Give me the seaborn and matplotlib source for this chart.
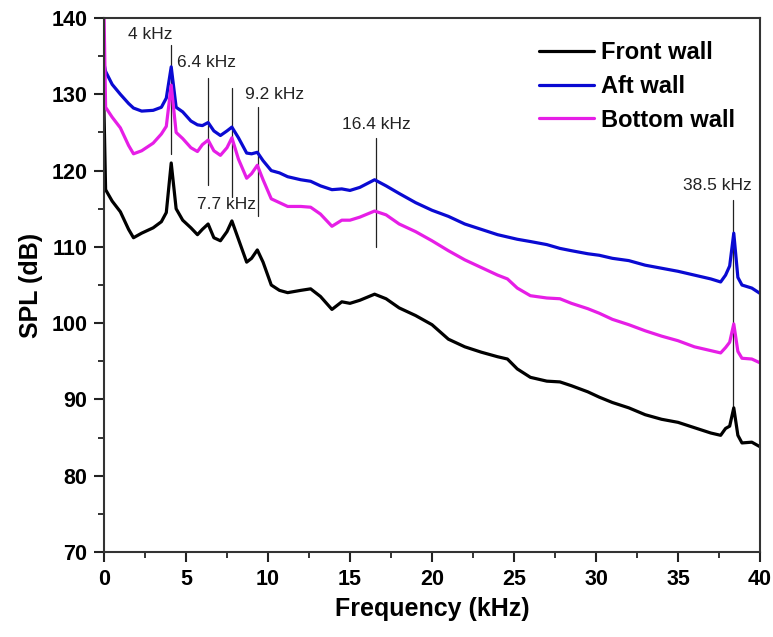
import matplotlib
matplotlib.use("Agg")
import matplotlib.pyplot as plt
import seaborn as sns
import pandas as pd
from matplotlib.ticker import MultipleLocator

# ---- data ----
freq_khz = [0, 0.1, 0.5, 1.0, 1.5, 1.8, 2.3, 3.0, 3.5, 3.8, 4.1, 4.4, 4.8, 5.3, 5.7, 6.0,
            6.35, 6.7, 7.1, 7.5, 7.8, 8.2, 8.7, 9.0, 9.35, 9.7, 10.2, 10.7, 11.2, 12.0,
            12.6, 13.2, 13.9, 14.5, 15.0, 15.6, 16.5, 17.2, 18.0, 19.0, 20.0, 21.0, 22.0,
            23.0, 24.0, 24.6, 25.2, 26.0, 27.0, 27.8, 28.5, 29.5, 30.2, 31.0, 32.0, 33.0,
            34.0, 35.0, 36.0, 37.0, 37.6, 37.9, 38.15, 38.4, 38.65, 38.9, 39.5, 40.0]

front_wall = [128.0, 117.5, 116.0, 114.6, 112.3, 111.2, 111.8, 112.5, 113.3, 114.5, 121.0,
              115.0, 113.5, 112.5, 111.6, 112.3, 113.0, 111.2, 110.8, 112.0, 113.4, 111.0,
              108.0, 108.5, 109.6, 108.0, 105.0, 104.3, 104.0, 104.3, 104.5, 103.5, 101.8,
              102.8, 102.6, 103.0, 103.8, 103.2, 102.0, 101.0, 99.8, 97.9, 96.9, 96.2, 95.6,
              95.3, 94.0, 92.9, 92.4, 92.3, 91.8, 91.0, 90.3, 89.6, 88.9, 88.0, 87.4, 87.0,
              86.3, 85.6, 85.3, 86.2, 86.5, 88.9, 85.3, 84.3, 84.4, 83.8]

aft_wall = [134.0, 133.0, 131.3, 130.0, 128.8, 128.2, 127.8, 127.9, 128.3, 129.5, 133.6,
            128.3, 127.7, 126.5, 126.0, 125.9, 126.3, 125.2, 124.6, 125.2, 125.7, 124.3,
            122.3, 122.2, 122.4, 121.3, 120.0, 119.7, 119.2, 118.8, 118.6, 118.0, 117.5,
            117.6, 117.4, 117.8, 118.8, 118.0, 117.0, 115.8, 114.8, 114.0, 113.0, 112.3,
            111.6, 111.3, 111.0, 110.7, 110.3, 109.8, 109.5, 109.1, 108.9, 108.5, 108.2,
            107.6, 107.2, 106.8, 106.3, 105.8, 105.4, 106.3, 107.5, 111.8, 106.0, 105.0,
            104.6, 103.9]

bottom_wall = [141.0, 128.3, 127.0, 125.6, 123.3, 122.2, 122.6, 123.6, 124.8, 125.8, 131.2,
               125.0, 124.2, 123.0, 122.5, 123.4, 124.0, 122.6, 122.0, 123.0, 124.3, 121.5,
               119.0, 119.6, 120.7, 118.8, 116.3, 115.8, 115.3, 115.3, 115.2, 114.3, 112.7,
               113.5, 113.5, 113.9, 114.7, 114.2, 113.0, 112.0, 110.8, 109.5, 108.3, 107.3,
               106.3, 105.8, 104.6, 103.6, 103.3, 103.2, 102.6, 101.9, 101.3, 100.5, 99.8,
               99.0, 98.3, 97.7, 96.9, 96.4, 96.1, 96.8, 97.5, 99.9, 96.3, 95.4, 95.3, 94.8]

series_names = ["Front wall", "Aft wall", "Bottom wall"]
series_colors = ["#000000", "#0a0ad2", "#e61ee6"]

# peak markers: label, line frequency, line top (dB), line bottom (dB)
peak_labels = ["4 kHz", "6.4 kHz", "7.7 kHz", "9.2 kHz", "16.4 kHz", "38.5 kHz"]
peak_freq = [4.08, 6.34, 7.8, 9.39, 16.6, 38.35]
peak_top = [136.4, 132.1, 130.8, 128.3, 124.3, 116.1]
peak_bottom = [122.2, 118.1, 116.5, 114.0, 110.0, 88.6]

# ---- build table ----
rows = []
for name, vals in zip(series_names, [front_wall, aft_wall, bottom_wall]):
    for f, v in zip(freq_khz, vals):
        rows.append({"Frequency": f, "SPL": v, "Wall": name})
df = pd.DataFrame(rows)

sns.set_theme(style="ticks")
plt.rcParams["font.family"] = ["Liberation Sans", "DejaVu Sans"]
plt.rcParams["text.color"] = "black"
plt.rcParams["axes.labelcolor"] = "black"
plt.rcParams["xtick.color"] = "black"
plt.rcParams["ytick.color"] = "black"

fig = plt.figure(figsize=(7.73, 6.37), dpi=100)
ax = fig.add_axes([0.1345, 0.1334, 0.8487, 0.8383])

sns.lineplot(data=df, x="Frequency", y="SPL", hue="Wall", hue_order=series_names,
             palette=series_colors, linewidth=2.3, ax=ax, sort=False)

# peak annotation lines
for f, t, b in zip(peak_freq, peak_top, peak_bottom):
    ax.plot([f, f], [b, t], color="#222222", linewidth=0.9, zorder=1)

label_pos = {"4 kHz": (2.8, 137.8), "6.4 kHz": (6.28, 134.2), "7.7 kHz": (7.5, 115.5),
             "9.2 kHz": (10.4, 130.0), "16.4 kHz": (16.6, 126.1), "38.5 kHz": (37.4, 118.0)}
for lab in peak_labels:
    x, y = label_pos[lab]
    ax.text(x, y, lab, ha="center", va="center", fontsize=12.5, color="#222222")

ax.set_xlim(0, 40)
ax.set_ylim(70, 140)
ax.xaxis.set_major_locator(MultipleLocator(5))
ax.xaxis.set_minor_locator(MultipleLocator(2.5))
ax.yaxis.set_major_locator(MultipleLocator(10))
ax.yaxis.set_minor_locator(MultipleLocator(5))
ax.tick_params(which="major", direction="out", length=7, width=1.5, labelsize=15.5,
               color="#222222", labelcolor="black", pad=5)
ax.tick_params(which="minor", direction="out", length=4, width=1.3, color="#222222")
for lbl in ax.get_xticklabels() + ax.get_yticklabels():
    lbl.set_fontweight("bold")
for sp in ax.spines.values():
    sp.set_visible(True)
    sp.set_linewidth(1.5)
    sp.set_color("#333333")

ax.set_xlabel("Frequency (kHz)", fontsize=18, fontweight="bold", labelpad=5)
ax.set_ylabel("SPL (dB)", fontsize=18, fontweight="bold", labelpad=6)

leg = ax.legend(loc="upper right", bbox_to_anchor=(0.995, 0.996), frameon=False,
                prop={"weight": "bold", "size": 17}, handlelength=2.35, handletextpad=0.3,
                labelspacing=0.45)
for h in leg.get_lines():
    h.set_linewidth(2.3)

fig.savefig("out.png", dpi=100)
